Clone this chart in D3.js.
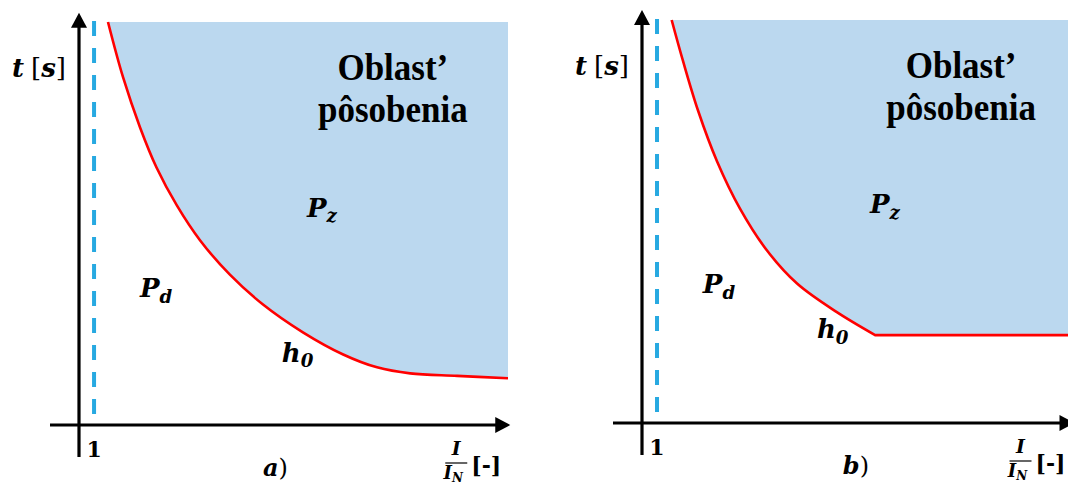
<!DOCTYPE html>
<html><head><meta charset="utf-8">
<script src="https://cdn.jsdelivr.net/npm/d3@7"></script>
<style>html,body{margin:0;padding:0;background:#fff;}svg{display:block;}</style>
</head><body>
<svg id="chart" width="1068" height="485"></svg>
<script>
// ---------- DATA ----------
const panelIds = ["a", "b"];
// relative current I/I_N and time t (schematic units)
const curveA_x = [1.37, 1.77, 2.22, 2.66, 3.20, 3.82, 4.61, 5.49, 6.55, 7.62, 8.52, 9.40, 10.65, 12.0];
const curveA_t = [10.0, 8.63, 7.39, 6.39, 5.45, 4.58, 3.73, 2.99, 2.30, 1.75, 1.43, 1.28, 1.22, 1.16];
const curveB_x = [1.39, 1.69, 2.09, 2.60, 3.21, 3.93, 4.73, 5.79, 6.81];
const curveB_t = [10.0, 8.99, 7.76, 6.49, 5.32, 4.28, 3.46, 2.75, 2.18];
const curveB_flatX = [6.81, 12.1];
const curveB_flatT = [2.18, 2.18];
const tickValues = [1];
const tickLabels = ["1"];
const regionLines = ["Oblast’", "pôsobenia"];
const panelCaptions = ["a", "b"];

// ---------- LAYOUT ----------
const svg = d3.select("#chart");
const C = {fill: "#BBD8EF", red: "#FF0000", blue: "#27A9E1", black: "#000"};
const mathFont = "'DejaVu Serif', serif";
const textFont = "'Liberation Serif', 'Times New Roman', serif";

const panels = [
  {id: "a", xr: [79, 508], yr: [425, 22], xTip: 12.06, tTip: 10.23,
   region: 8.94, pz: [6.66, 5.17], pd: [2.22, 3.18], h0: [5.99, 1.57], cap: 5.49},
  {id: "b", xr: [642, 1070], yr: [423, 20], xTip: 12.12, tTip: 10.25,
   region: 9.10, pz: [6.67, 5.21], pd: [2.22, 3.23], h0: [5.26, 2.11], cap: 5.95}
];

function mathText(g, x, y, main, sub, size) {
  const t = g.append("text").attr("x", x).attr("y", y)
    .attr("font-family", mathFont).attr("font-weight", "bold").attr("font-style", "italic")
    .attr("font-size", size).attr("fill", C.black);
  t.append("tspan").text(main);
  if (sub) t.append("tspan").attr("font-size", size * 0.7).attr("dy", size * 0.22).text(sub);
  return t;
}

panels.forEach((p, i) => {
  const x = d3.scaleLinear().domain([0.6, 12]).range(p.xr);
  const y = d3.scaleLinear().domain([0, 10]).range(p.yr);
  const g = svg.append("g");

  let pts, flat = null;
  if (p.id === "a") {
    pts = curveA_x.map((v, k) => [v, curveA_t[k]]);
  } else {
    pts = curveB_x.map((v, k) => [v, curveB_t[k]]);
    flat = curveB_flatX.map((v, k) => [v, curveB_flatT[k]]);
  }
  const allPts = flat ? pts.concat(flat.slice(1)) : pts;

  const lineCurve = d3.line().x(d => x(d[0])).y(d => y(d[1])).curve(d3.curveCatmullRom.alpha(0.5));
  const lineLin = d3.line().x(d => x(d[0])).y(d => y(d[1]));
  let curvePath = lineCurve(pts);
  if (flat) curvePath += lineLin(flat).replace(/^M/, "L");
  const last = allPts[allPts.length - 1], first = allPts[0];
  const fillPath = curvePath + "L" + x(last[0]) + "," + y(10) + "L" + x(first[0]) + "," + y(10) + "Z";
  g.append("path").attr("d", fillPath).attr("fill", C.fill).attr("stroke", "none");

  g.append("path").attr("d", curvePath).attr("fill", "none")
    .attr("stroke", C.red).attr("stroke-width", 2.6);

  tickValues.forEach(tv => {
    g.append("line").attr("x1", x(tv)).attr("x2", x(tv))
      .attr("y1", y(10) - 1).attr("y2", y(0))
      .attr("stroke", C.blue).attr("stroke-width", 4).attr("stroke-dasharray", "15,12");
  });

  // axes
  const x0 = x(0.6), y0 = y(0);
  const xTipPx = x(p.xTip), yTipPx = y(p.tTip);
  g.append("line").attr("x1", x0 - 29).attr("x2", xTipPx - 10).attr("y1", y0).attr("y2", y0)
    .attr("stroke", C.black).attr("stroke-width", 3.2);
  g.append("line").attr("x1", x0).attr("x2", x0).attr("y1", y0 + 32).attr("y2", yTipPx + 10)
    .attr("stroke", C.black).attr("stroke-width", 3.2);
  g.append("path").attr("d", `M${xTipPx},${y0} L${xTipPx - 15},${y0 - 8} L${xTipPx - 15},${y0 + 8} Z`).attr("fill", C.black);
  g.append("path").attr("d", `M${x0},${yTipPx} L${x0 - 8},${yTipPx + 15} L${x0 + 8},${yTipPx + 15} Z`).attr("fill", C.black);

  tickValues.forEach((tv, k) => {
    g.append("text").attr("x", x(tv)).attr("y", y0 + 32).attr("text-anchor", "middle")
      .attr("font-family", mathFont).attr("font-weight", "bold").attr("font-size", 22)
      .text(tickLabels[k]);
  });

  // y axis label t [s]
  const tl = g.append("text").attr("x", x0 - 67).attr("y", p.id === "a" ? 77 : 75)
    .attr("font-family", mathFont).attr("font-size", 26).attr("font-weight", "bold");
  tl.append("tspan").attr("font-style", "italic").text("t");
  tl.append("tspan").attr("font-weight", "normal").attr("dx", 7).text("[");
  tl.append("tspan").attr("font-style", "italic").text("s");
  tl.append("tspan").attr("font-weight", "normal").text("]");

  // x axis label I/I_N [-]
  const fx = xTipPx - 54;
  g.append("text").attr("x", fx).attr("y", y0 + 30).attr("text-anchor", "middle")
    .attr("font-family", mathFont).attr("font-style", "italic").attr("font-weight", "bold")
    .attr("font-size", 19).text("I");
  g.append("line").attr("x1", fx - 11).attr("x2", fx + 11).attr("y1", y0 + 38).attr("y2", y0 + 38)
    .attr("stroke", C.black).attr("stroke-width", 1.2);
  const den = g.append("text").attr("x", fx - 3).attr("y", y0 + 54).attr("text-anchor", "middle")
    .attr("font-family", mathFont).attr("font-style", "italic").attr("font-weight", "bold").attr("font-size", 18);
  den.append("tspan").text("I");
  den.append("tspan").attr("font-size", 12).attr("dy", 3).text("N");
  g.append("text").attr("x", fx + 15).attr("y", y0 + 48)
    .attr("font-family", mathFont).attr("font-size", 22).attr("font-weight", "bold").text("[-]");

  // region label (slightly stretched vertically like the reference)
  const cx = x(p.region);
  regionLines.forEach((s, k) => {
    const by = y(10) + 58 + k * 42;
    g.append("text").attr("transform", `translate(${cx},${by}) scale(1,1.1)`)
      .attr("text-anchor", "middle")
      .attr("font-family", textFont).attr("font-weight", "bold").attr("font-size", 35).text(s);
  });

  // annotations
  mathText(g, x(p.pz[0]), y(p.pz[1]), "P", "z", 26);
  mathText(g, x(p.pd[0]), y(p.pd[1]), "P", "d", 26);
  mathText(g, x(p.h0[0]), y(p.h0[1]), "h", "0", 26);

  // caption a) / b)
  const cap = g.append("text").attr("x", x(p.cap)).attr("y", y0 + 51)
    .attr("font-family", mathFont).attr("font-size", 24).attr("font-weight", "bold");
  cap.append("tspan").attr("font-style", "italic").text(panelCaptions[i]);
  cap.append("tspan").attr("font-weight", "normal").text(")");
});
</script>
</body></html>
